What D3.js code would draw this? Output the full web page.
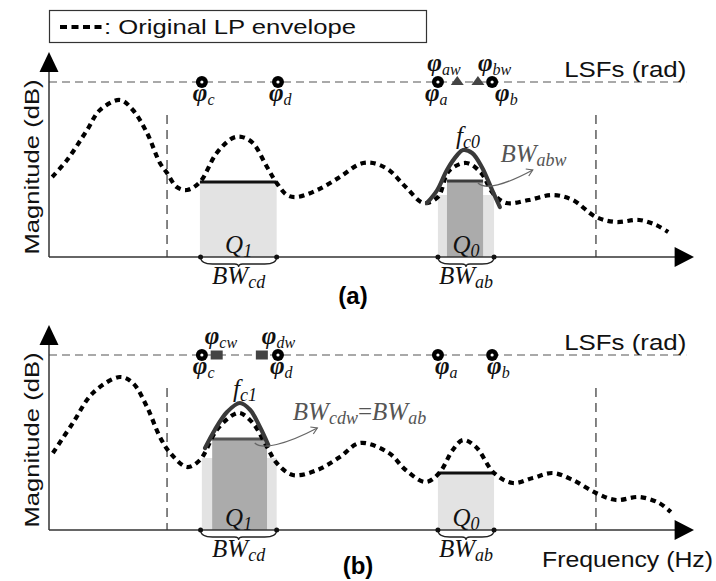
<!DOCTYPE html>
<html>
<head>
<meta charset="utf-8">
<script src="https://cdn.jsdelivr.net/npm/d3@7"></script>
<style>
  body { margin: 0; background: #fff; }
  svg { display: block; }
</style>
</head>
<body>
<div class="chart"></div>
<script>
// LP envelope (frequency index 0-100, magnitude 0-100) for panel (a) and (b)
const envelopeA = [
  [0.5, 40], [2.8, 48.5], [5.9, 63.5], [7.9, 73.5], [11.0, 78.5], [13.0, 73.5],
  [15.2, 62], [17.2, 47], [18.3, 42], [19.8, 35], [21.4, 33.5], [23.4, 37.5],
  [26.0, 52], [28.5, 59.5], [29.9, 60], [31.6, 57], [33.8, 45], [35.3, 37],
  [36.9, 31], [38.4, 30], [41.6, 33.5], [45.1, 40], [48.2, 46.5], [50.2, 47],
  [52.7, 43.5], [55.3, 35], [58.1, 27], [60.3, 30], [62.0, 43], [64.7, 47],
  [67.0, 42], [68.8, 32], [70.9, 27], [74.4, 28.5], [78.1, 31], [81.2, 28.5],
  [84.8, 20], [87.9, 17.5], [91.5, 18.5], [94.1, 16], [96.0, 12.5]
]
const envelopeB = [
  [0.6, 38.5], [3.7, 53.5], [6.8, 68.5], [11.0, 76.5], [13.0, 73.5], [15.2, 61.5],
  [17.2, 46.5], [18.8, 38.5], [21.4, 31.5], [23.4, 35], [26.0, 50], [28.5, 57.5],
  [29.6, 58.5], [31.6, 53.5], [33.8, 41.5], [35.3, 33.5], [37.8, 27.5], [41.6, 30],
  [45.1, 36.5], [48.2, 43.5], [52.7, 38.5], [55.3, 30], [58.4, 24], [60.5, 28.5],
  [62.6, 40], [64.2, 45], [66.2, 41.5], [69.0, 28.5], [71.9, 23.5], [75.0, 26],
  [78.1, 28.5], [81.2, 25], [84.8, 18.5], [87.9, 15], [91.5, 16.5], [94.6, 13.5],
  [96.4, 9]
]
// modified formant peaks (solid)
const formantA = [
  [58.6, 27], [60.2, 33.5], [61.7, 43.5], [63.3, 51], [64.2, 53.5],
  [65.6, 52], [67.1, 45], [68.7, 33.5], [69.9, 25]
]
const formantB = [
  [24.2, 41], [25.7, 50], [27.6, 59], [29.6, 63.5], [31.2, 60], [32.7, 51.5], [34.0, 42.5]
]
// LSF positions
const lsfOriginal = [
  { name: 'c', x: 23.7 }, { name: 'd', x: 35.5 }, { name: 'a', x: 60.3 }, { name: 'b', x: 68.7 }
]
const lsfWarpedA = [{ name: 'aw', x: 63.3 }, { name: 'bw', x: 66.5 }]
const lsfWarpedB = [{ name: 'cw', x: 26.0 }, { name: 'dw', x: 33.0 }]
const lsfLevel = 87.5
const bandEdges = [18.3, 84.8]
const bandTop = 71
// shaded bandwidths: [x0, x1, top]
const bandsA = {
  light: [[23.4, 35.3, 37.5], [60.3, 69.0, 31]],
  dark: [[61.7, 67.3, 38]],
  lines: [[23.4, 35.3, 37.5, '#111'], [61.7, 67.3, 38, '#3c3c3c']]
}
const bandsB = {
  light: [[23.7, 35.3, 36], [60.3, 69.0, 28.5]],
  dark: [[25.3, 33.8, 45.5]],
  lines: [[25.0, 33.5, 45.5, '#555'], [60.3, 69.0, 28.5, '#111']]
}
const braces = [{ x0: 23.5, x1: 35.3, label: 'cd' }, { x0: 60.3, x1: 69.0, label: 'ab' }]

const W = 716, H = 581
const svg = d3.select('.chart').append('svg').attr('width', W).attr('height', H)

const x = d3.scaleLinear().domain([0, 100]).range([49, 694])
const serif = '"Liberation Serif", "Times New Roman", serif'
const sans = '"Liberation Sans", Arial, sans-serif'

// legend
svg.append('rect').attr('x', 49.5).attr('y', 10.5).attr('width', 377).attr('height', 32)
  .attr('fill', 'none').attr('stroke', '#333').attr('stroke-width', 1.2)
svg.append('line').attr('x1', 60).attr('x2', 103).attr('y1', 27).attr('y2', 27)
  .attr('stroke', '#000').attr('stroke-width', 4).attr('stroke-dasharray', '7,4.5')
svg.append('text').attr('x', 104).attr('y', 34).attr('font-family', sans).attr('font-size', 21)
  .attr('fill', '#111')
  .attr('textLength', 252).attr('lengthAdjust', 'spacingAndGlyphs').text(': Original LP envelope')

function mathLabel(g, px, py, parts, opts = {}) {
  const size = opts.size || 24
  const t = g.append('text').attr('x', px).attr('y', py)
    .attr('font-family', serif).attr('font-style', 'italic')
    .attr('font-size', size).attr('fill', opts.color || '#111')
    .attr('text-anchor', opts.anchor || 'start')
  let shifted = 0
  parts.forEach(p => {
    const s = t.append('tspan').text(p.t)
    if (p.sub) {
      s.attr('font-size', Math.round(opts.subSize || size * 0.7)).attr('dy', 4 - shifted)
      shifted = 4
    } else {
      if (shifted) s.attr('dy', -shifted)
      shifted = 0
      if (p.bold) s.attr('font-weight', 'bold')
      if (p.upright) s.attr('font-style', 'normal')
    }
  })
  return t
}

function drawPanel(axisY, env, formant, bands, warped, warpedShape, panel) {
  const g = svg.append('g')
  const y = d3.scaleLinear().domain([0, 100]).range([axisY, axisY - 200])
  const line = d3.line().x(d => x(d[0])).y(d => y(d[1])).curve(d3.curveCatmullRom.alpha(0.5))

  // shaded bandwidths
  g.selectAll('.light').data(bands.light).join('rect')
    .attr('x', d => x(d[0])).attr('width', d => x(d[1]) - x(d[0]))
    .attr('y', d => y(d[2])).attr('height', d => y(0) - y(d[2]))
    .attr('fill', '#e3e3e3')
  g.selectAll('.dark').data(bands.dark).join('rect')
    .attr('x', d => x(d[0])).attr('width', d => x(d[1]) - x(d[0]))
    .attr('y', d => y(d[2])).attr('height', d => y(0) - y(d[2]))
    .attr('fill', '#ababab')
  g.selectAll('.bwline').data(bands.lines).join('line')
    .attr('x1', d => x(d[0])).attr('x2', d => x(d[1]))
    .attr('y1', d => y(d[2])).attr('y2', d => y(d[2]))
    .attr('stroke', d => d[3]).attr('stroke-width', 3)

  // band edge markers
  g.selectAll('.edge').data(bandEdges).join('line')
    .attr('x1', d => x(d)).attr('x2', d => x(d))
    .attr('y1', y(bandTop)).attr('y2', y(0))
    .attr('stroke', '#333').attr('stroke-width', 1.2).attr('stroke-dasharray', '9,6')

  // LSF line
  g.append('line').attr('x1', x(0)).attr('x2', x(98.8)).attr('y1', y(lsfLevel)).attr('y2', y(lsfLevel))
    .attr('stroke', '#555').attr('stroke-width', 1.2).attr('stroke-dasharray', '8,5')
  g.append('text').attr('x', x(98.8)).attr('y', y(lsfLevel) - 5).attr('text-anchor', 'end')
    .attr('font-family', sans).attr('font-size', 22).attr('fill', '#111')
    .attr('textLength', 122).attr('lengthAdjust', 'spacingAndGlyphs').text('LSFs (rad)')

  // axes
  g.append('line').attr('x1', x(0)).attr('x2', x(0)).attr('y1', y(0)).attr('y2', y(95))
    .attr('stroke', '#333').attr('stroke-width', 1.5)
  g.append('path').attr('fill', '#000')
    .attr('d', `M${x(0)},${y(102.5)}L${x(0) - 9.5},${y(92.5)}L${x(0) + 9.5},${y(92.5)}Z`)
  g.append('line').attr('x1', x(0)).attr('x2', x(98)).attr('y1', y(0)).attr('y2', y(0))
    .attr('stroke', '#333').attr('stroke-width', 1.5)
  g.append('path').attr('fill', '#000')
    .attr('d', `M${x(100)},${y(0)}L${x(97)},${y(5)}L${x(97)},${y(-5)}Z`)

  g.append('text')
    .attr('transform', `translate(39,${y(45)}) rotate(-90)`)
    .attr('text-anchor', 'middle').attr('font-family', sans).attr('font-size', 21).attr('fill', '#111')
    .attr('textLength', 175).attr('lengthAdjust', 'spacingAndGlyphs').text('Magnitude (dB)')

  // envelope
  g.append('path').attr('d', line(env)).attr('fill', 'none')
    .attr('stroke', '#000').attr('stroke-width', 4.2).attr('stroke-dasharray', '5.5,4.5')
  // modified formant
  g.append('path').attr('d', line(formant)).attr('fill', 'none')
    .attr('stroke', '#3a3a3a').attr('stroke-width', 4.2).attr('stroke-linecap', 'round')
  const peak = formant.reduce((a, b) => (b[1] > a[1] ? b : a))
  mathLabel(g, x(peak[0]) + 5, y(peak[1]) - 6,
    [{ t: 'f' }, { t: panel === 'a' ? 'c0' : 'c1', sub: true }], { anchor: 'middle', size: 25 })

  // braces and bandwidth labels
  braces.forEach(b => {
    const x0 = x(b.x0), x1 = x(b.x1), xm = (x0 + x1) / 2, yy = y(0)
    g.append('path').attr('fill', 'none').attr('stroke', '#222').attr('stroke-width', 1.3)
      .attr('d', `M${x0},${yy}Q${x0},${yy + 7} ${x0 + 12},${yy + 7}L${xm - 4},${yy + 7}` +
        `Q${xm},${yy + 7} ${xm},${yy + 10}Q${xm},${yy + 7} ${xm + 4},${yy + 7}` +
        `L${x1 - 12},${yy + 7}Q${x1},${yy + 7} ${x1},${yy}`)
    g.selectAll(null).data([x0, x1]).join('circle')
      .attr('cx', d => d).attr('cy', yy).attr('r', 2.5).attr('fill', '#111')
    mathLabel(g, xm, yy + 27, [{ t: 'BW' }, { t: b.label, sub: true }], { anchor: 'middle', size: 25 })
    mathLabel(g, xm, yy - 4, [{ t: 'Q' }, { t: b.label === 'cd' ? '1' : '0', sub: true }],
      { anchor: 'middle', size: 25 })
  })

  // LSF markers
  const ly = y(lsfLevel)
  if (warpedShape === 'triangle') {
    g.selectAll('.tri').data(warped).join('path').attr('fill', '#444')
      .attr('d', d => `M${x(d.x)},${ly - 6}L${x(d.x) - 6.5},${ly + 3}L${x(d.x) + 6.5},${ly + 3}Z`)
  } else {
    g.selectAll('.sq').data(warped).join('rect').attr('fill', '#444')
      .attr('x', d => x(d.x) - 6).attr('y', ly - 4.5).attr('width', 12).attr('height', 9)
  }
  g.selectAll('.lsf').data(lsfOriginal).join('circle')
    .attr('cx', d => x(d.x)).attr('cy', ly).attr('r', 6).attr('fill', '#000')
  g.selectAll('.lsfdot').data(lsfOriginal).join('circle')
    .attr('cx', d => x(d.x)).attr('cy', ly).attr('r', 1.6).attr('fill', '#fff')

  const shiftBelow = panel === 'a' ? { c: -9, d: -9, a: -13, b: 3 } : { c: -9, d: -8, a: -3, b: -5 }
  lsfOriginal.forEach(d => {
    mathLabel(g, x(d.x) + shiftBelow[d.name], ly + 19,
      [{ t: 'φ', bold: true }, { t: d.name, sub: true }], { size: 25, subSize: 16 })
  })
  const shiftAbove = panel === 'a' ? [-30, 0] : [-12, 0]
  warped.forEach((d, i) => {
    mathLabel(g, x(d.x) + shiftAbove[i], ly - 11,
      [{ t: 'φ', bold: true }, { t: d.name, sub: true }], { size: 25, subSize: 16 })
  })
  return { g, y }
}

// panel (a)
const pa = drawPanel(257, envelopeA, formantA, bandsA, lsfWarpedA, 'triangle', 'a')
mathLabel(pa.g, x(70.0), pa.y(47.5), [{ t: 'BW' }, { t: 'abw', sub: true }], { color: '#555', size: 25 })
pa.g.append('path').attr('fill', 'none').attr('stroke', '#666').attr('stroke-width', 1.2)
  .attr('d', `M${x(66.5)},${pa.y(37)}C${x(67.6)},${pa.y(33.5)} ${x(70.7)},${pa.y(36)} ${x(75.0)},${pa.y(43.5)}`)
pa.g.append('path').attr('fill', 'none').attr('stroke', '#666').attr('stroke-width', 1.2)
  .attr('d', `M${x(75.0) - 7},${pa.y(43.5) - 1}L${x(75.0)},${pa.y(43.5)}L${x(75.0) - 4},${pa.y(43.5) + 6}`)
svg.append('text').attr('x', 353).attr('y', 304).attr('text-anchor', 'middle')
  .attr('font-family', sans).attr('font-weight', 'bold').attr('font-size', 24).text('(a)')

// panel (b)
const pb = drawPanel(530, envelopeB, formantB, bandsB, lsfWarpedB, 'square', 'b')
mathLabel(pb.g, x(37.8), pb.y(55), [
  { t: 'BW' }, { t: 'cdw', sub: true }, { t: '=', upright: true }, { t: 'BW' }, { t: 'ab', sub: true }
], { color: '#555', size: 25 })
pb.g.append('path').attr('fill', 'none').attr('stroke', '#666').attr('stroke-width', 1.2)
  .attr('d', `M${x(31.9)},${pb.y(43.5)}C${x(33.0)},${pb.y(40)} ${x(36.6)},${pb.y(42.5)} ${x(41.6)},${pb.y(51)}`)
pb.g.append('path').attr('fill', 'none').attr('stroke', '#666').attr('stroke-width', 1.2)
  .attr('d', `M${x(41.6) - 7},${pb.y(51) - 1}L${x(41.6)},${pb.y(51)}L${x(41.6) - 4},${pb.y(51) + 6}`)
svg.append('text').attr('x', 713).attr('y', 567).attr('text-anchor', 'end')
  .attr('font-family', sans).attr('font-size', 22).attr('fill', '#111')
  .attr('textLength', 171).attr('lengthAdjust', 'spacingAndGlyphs').text('Frequency (Hz)')
svg.append('text').attr('x', 358).attr('y', 574).attr('text-anchor', 'middle')
  .attr('font-family', sans).attr('font-weight', 'bold').attr('font-size', 24).text('(b)')
</script>
</body>
</html>
